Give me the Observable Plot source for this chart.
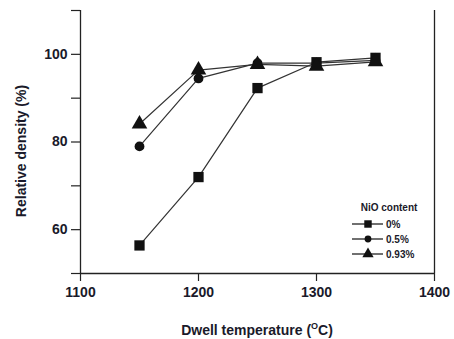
<!DOCTYPE html>
<html><head><meta charset="utf-8">
<script src="https://cdn.jsdelivr.net/npm/d3@7"></script>
<script src="https://cdn.jsdelivr.net/npm/@observablehq/plot@0.6"></script>
<style>
body{margin:0;background:#fff;}
svg{font-family:"Liberation Sans",Arial,sans-serif;}
</style></head>
<body><div id="chart"></div>
<script>
const temps = [1150, 1200, 1250, 1300, 1350];
const series = ["0%", "0.5%", "0.93%"];
const symbols = ["square", "circle", "triangle"];
const density0 = [56.4, 72.0, 92.3, 98.2, 99.2];
const density05 = [79.0, 94.5, 98.0, 98.0, 98.6];
const density093 = [84.1, 96.4, 97.7, 97.3, 98.3];
const xTicks = [1100, 1200, 1300, 1400];
const yTicks = [50, 60, 70, 80, 90, 100, 110];
const yLabelTicks = [60, 80, 100];
const legendTitle = "NiO content";

const values = [density0, density05, density093];
const data = [];
series.forEach((s, i) => temps.forEach((t, j) => data.push({t, v: values[i][j], s})));

const ink = "#1a1a2a";
const markerR = {"0%": 5.8, "0.5%": 4.9, "0.93%": 5.8};
const chart = Plot.plot({
  width: 454, height: 339,
  marginLeft: 80, marginRight: 20, marginTop: 10, marginBottom: 66,
  style: {fontFamily: "'Liberation Sans', Arial, sans-serif", fontSize: "14px", fontWeight: "bold", color: ink},
  x: {domain: [1100, 1400]},
  y: {domain: [50, 110]},
  symbol: {domain: series, range: symbols},
  marks: [
    Plot.ruleX([1100, 1400], {stroke: "#222", strokeWidth: 1.3}),
    Plot.ruleY([50], {stroke: "#222", strokeWidth: 1.3}),
    Plot.axisX({ticks: xTicks, tickSize: 8, tickPadding: 6, label: null, tickFormat: d => String(d), stroke: "#222", strokeWidth: 1.2}),
    Plot.axisY({ticks: yTicks, tickSize: 9, tickPadding: 4, label: null, tickFormat: d => yLabelTicks.includes(d) ? String(d) : "", stroke: "#222", strokeWidth: 1.2}),
    Plot.line(data, {x: "t", y: "v", z: "s", stroke: "#333", strokeWidth: 1.2}),
    ...series.map(s => Plot.dot(data.filter(d => d.s === s), {x: "t", y: "v", symbol: "s", fill: "#111", stroke: "none", r: markerR[s]}))
  ]
});
document.getElementById("chart").appendChild(chart);

const svg = d3.select(chart);
const xs = chart.scale("x");
// axis titles
const xl = svg.append("text").attr("x", (xs.range[0] + xs.range[1]) / 2).attr("y", 335)
  .attr("text-anchor", "middle").attr("font-size", 14).attr("font-weight", "bold").attr("fill", ink);
xl.append("tspan").text("Dwell temperature (");
xl.append("tspan").text("O").attr("font-size", 9).attr("dy", -6);
xl.append("tspan").text("C)").attr("dy", 6);
svg.append("text").attr("transform", `translate(26,151) rotate(-90)`)
  .attr("text-anchor", "middle").attr("font-size", 14).attr("font-weight", "bold").attr("fill", ink)
  .text("Relative density (%)");

// legend
const lg = svg.append("g").attr("transform", "translate(352,208)");
lg.append("text").attr("x", 37).attr("y", 3).attr("text-anchor", "middle").attr("font-size", 10)
  .attr("font-weight", "bold").attr("fill", ink).text(legendTitle);
series.forEach((s, i) => {
  const y = 16 + i * 15;
  lg.append("line").attr("x1", 0).attr("x2", 31).attr("y1", y).attr("y2", y).attr("stroke", "#222").attr("stroke-width", 1.3);
  const r = i === 1 ? 3.4 : 4.2;
  const sym = [d3.symbolSquare, d3.symbolCircle, d3.symbolTriangle][i];
  lg.append("path").attr("d", d3.symbol(sym, Math.PI * r * r)()).attr("transform", `translate(16,${y})`).attr("fill", "#111");
  lg.append("text").attr("x", 34).attr("y", y + 4).attr("text-anchor", "start").attr("font-size", 10).attr("font-weight", "bold").attr("fill", ink).text(s);
});
</script></body></html>
